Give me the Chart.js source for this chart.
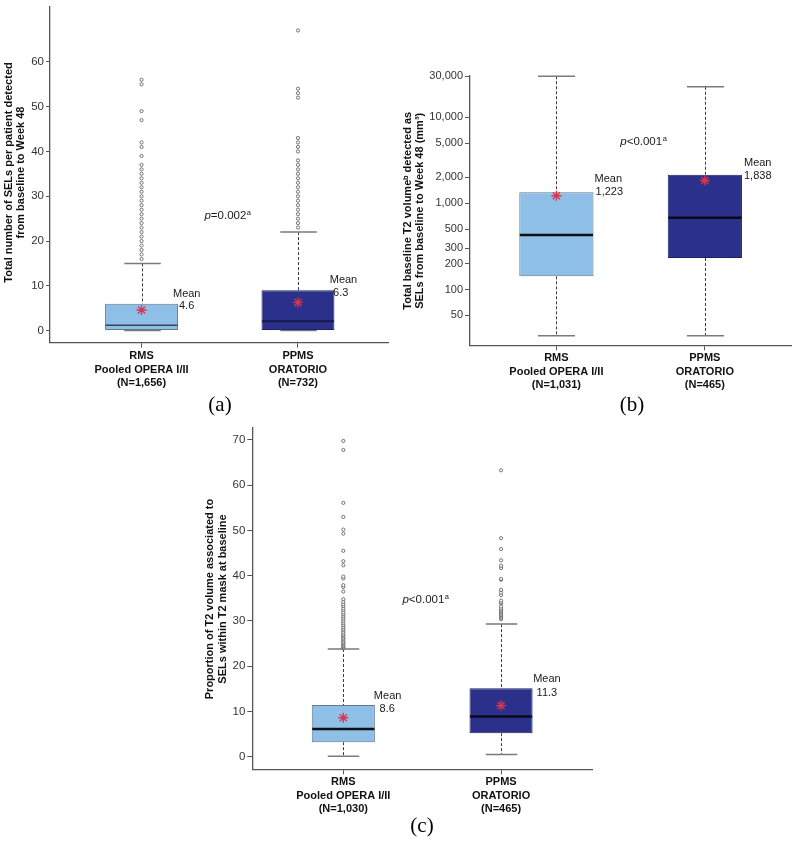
<!DOCTYPE html>
<html><head><meta charset="utf-8">
<script src="https://cdn.jsdelivr.net/npm/chart.js@4.4.1/dist/chart.umd.min.js"></script>
<style>
html,body{margin:0;padding:0;background:#fff;}
#wrap{position:relative;width:798px;height:842px;overflow:hidden;background:#fff;}
canvas{position:absolute;}
</style></head><body>
<div id="wrap">
<canvas id="ca" width="395" height="420" style="left:0;top:0;width:395px;height:420px"></canvas>
<canvas id="cb" width="403" height="420" style="left:395px;top:0;width:403px;height:420px"></canvas>
<canvas id="cc" width="440" height="422" style="left:180px;top:420px;width:440px;height:422px"></canvas>
</div>
<script>
// ---------- Panel (a): total number of SELs ----------
const aCategories = [["RMS", "Pooled OPERA I/II", "(N=1,656)"], ["PPMS", "ORATORIO", "(N=732)"]];
const aQ1 = [0, 0];
const aQ3 = [6, 9];
const aMedian = [1.2, 2.1];
const aWhiskerLow = [0, 0];
const aWhiskerHigh = [15, 22];
const aMean = [4.6, 6.3];
const aMeanLabels = ["4.6", "6.3"];
const aOutliersRMS = [16,17,18,19,20,21,22,23,24,25,26,27,28,29,30,31,32,33,34,35,36,37,39,41,42,47,49,55,56];
const aOutliersPPMS = [23,24,25,26,27,28,29,30,31,32,33,34,35,36,37,38,40,41,42,43,52,53,54,67];
const aYTicks = [0, 10, 20, 30, 40, 50, 60];
const aTitle = ["Total number of SELs per patient detected", "from baseline to Week 48"];
const aPValue = "=0.002";

// ---------- Panel (b): total baseline T2 volume ----------
const bCategories = [["RMS", "Pooled OPERA I/II", "(N=1,031)"], ["PPMS", "ORATORIO", "(N=465)"]];
const bQ1 = [142, 232];
const bQ3 = [1341, 2150];
const bMedian = [430, 681];
const bWhiskerLow = [29, 29];
const bWhiskerHigh = [29800, 22500];
const bMean = [1223, 1838];
const bMeanLabels = ["1,223", "1,838"];
const bOutliersRMS = [];
const bOutliersPPMS = [];
const bYTicks = [50, 100, 200, 300, 500, 1000, 2000, 5000, 10000, 30000];
const bTitle = ["Total baseline T2 volume\u1D47 detected as", "SELs from baseline to Week 48 (mm\u00B3)"];
const bPValue = "<0.001";

// ---------- Panel (c): proportion of T2 volume ----------
const cCategories = [["RMS", "Pooled OPERA I/II", "(N=1,030)"], ["PPMS", "ORATORIO", "(N=465)"]];
const cQ1 = [3.2, 5.2];
const cQ3 = [11.4, 15.1];
const cMedian = [6.1, 8.9];
const cWhiskerLow = [0.1, 0.5];
const cWhiskerHigh = [23.8, 29.3];
const cMean = [8.6, 11.3];
const cMeanLabels = ["8.6", "11.3"];
const cOutliersRMS = [24.0,24.2,24.4,24.6,24.9,25.1,25.4,25.7,26.0,26.3,26.6,26.9,27.2,27.6,28.0,28.3,28.7,29.1,29.5,29.9,30.3,30.7,31.1,31.5,31.9,32.4,32.8,33.3,33.7,34.2,34.8,36.5,37.5,37.9,39.4,39.8,42.3,43.2,45.5,49.3,50.2,53.0,56.1,67.8,69.8];
const cOutliersPPMS = [30.4,30.7,31.0,31.3,31.6,31.9,32.2,32.5,32.8,33.2,33.9,34.1,34.5,35.7,36.3,36.9,39.1,39.3,41.7,42.2,43.4,45.9,48.3,63.3];
const cYTicks = [0, 10, 20, 30, 40, 50, 60, 70];
const cTitle = ["Proportion of T2 volume associated to", "SELs within T2 mask at baseline"];
const cPValue = "<0.001";

// ---------- styling ----------
const FONT = '"Liberation Sans", Arial, Helvetica, sans-serif';
const SERIF = '"Liberation Serif", "Times New Roman", serif';
const BOX_FILL = ['#8EBFE7', '#2B318B'];
const BOX_EDGE = ['#62778F', '#1C2268'];
const AXIS = '#555555';

function makePanel(cfg) {
  const d = cfg.data;
  const extras = {
    id: 'boxExtras',
    beforeDatasetsDraw(chart) {
      const ctx = chart.ctx, x = chart.scales.x, y = chart.scales.y;
      const meta = chart.getDatasetMeta(0);
      ctx.save();
      d.q1.forEach((_, i) => {
        const cx = Math.round(x.getPixelForValue(i)) + 0.5;
        const half = meta.data[i].width / 4;
        ctx.setLineDash([3, 2]);
        ctx.strokeStyle = '#3a3a3a';
        ctx.lineWidth = 1;
        ctx.beginPath();
        ctx.moveTo(cx, y.getPixelForValue(d.hi[i]));
        ctx.lineTo(cx, y.getPixelForValue(d.q3[i]));
        ctx.moveTo(cx, y.getPixelForValue(d.q1[i]));
        ctx.lineTo(cx, y.getPixelForValue(d.lo[i]));
        ctx.stroke();
        ctx.setLineDash([]);
        ctx.strokeStyle = '#7a7a7a';
        ctx.lineWidth = 1.5;
        ctx.beginPath();
        [d.hi[i], d.lo[i]].forEach(v => {
          const py = y.getPixelForValue(v);
          ctx.moveTo(cx - half, py); ctx.lineTo(cx + half, py);
        });
        ctx.stroke();
      });
      ctx.restore();
    },
    afterDatasetDraw(chart, args) {
      if (args.index !== 0) return;
      const ctx = chart.ctx, y = chart.scales.y;
      const meta = chart.getDatasetMeta(0);
      ctx.save();
      d.median.forEach((m, i) => {
        const bar = meta.data[i];
        const py = y.getPixelForValue(m);
        ctx.strokeStyle = cfg.medianStyle[i].c;
        ctx.lineWidth = cfg.medianStyle[i].w;
        ctx.beginPath();
        ctx.moveTo(bar.x - bar.width / 2 + 0.5, py);
        ctx.lineTo(bar.x + bar.width / 2 - 0.5, py);
        ctx.stroke();
      });
      ctx.restore();
    },
    afterDraw(chart) {
      const ctx = chart.ctx, y = chart.scales.y;
      const meta = chart.getDatasetMeta(0);
      ctx.save();
      ctx.fillStyle = '#111';
      ctx.font = 'bold 11px ' + FONT;
      ctx.textAlign = 'center';
      ctx.textBaseline = 'middle';
      cfg.title.forEach((t, k) => {
        ctx.save();
        ctx.translate(cfg.titleX[k], cfg.titleY);
        ctx.rotate(-Math.PI / 2);
        ctx.fillText(t, 0, 0);
        ctx.restore();
      });
      ctx.font = '11px ' + FONT;
      ctx.textAlign = 'left';
      ctx.fillStyle = '#1a1a1a';
      d.meanLabels.forEach((lab, i) => {
        const bar = meta.data[i];
        const right = bar.x + bar.width / 2;
        const top = y.getPixelForValue(d.q3[i]);
        const o = cfg.meanOffsets[i];
        ctx.fillText('Mean', right + o[0], top + o[1]);
        ctx.fillText(lab, right + o[2], top + o[3]);
      });
      const italic = 'italic 11.5px ' + FONT, normal = '11.5px ' + FONT, sup = '7.5px ' + FONT;
      ctx.font = italic; const w1 = ctx.measureText('p').width;
      ctx.font = normal; const w2 = ctx.measureText(cfg.pValue).width;
      ctx.font = sup; const w3 = ctx.measureText('a').width;
      let px = cfg.pPos[0] - (w1 + w2 + w3) / 2;
      ctx.fillStyle = '#1a1a1a';
      ctx.font = italic; ctx.fillText('p', px, cfg.pPos[1]); px += w1;
      ctx.font = normal; ctx.fillText(cfg.pValue, px, cfg.pPos[1]); px += w2;
      ctx.font = sup; ctx.fillText('a', px + 0.5, cfg.pPos[1] - 3);
      ctx.font = '21px ' + SERIF;
      ctx.fillStyle = '#000';
      ctx.textAlign = 'center';
      ctx.fillText(cfg.panelLabel, cfg.labelPos[0], cfg.labelPos[1]);
      ctx.restore();
    }
  };

  const datasets = [
    {
      type: 'bar',
      data: d.q1.map((v, i) => ({ x: i, y: [d.q1[i], d.q3[i]] })),
      backgroundColor: BOX_FILL,
      borderColor: BOX_EDGE,
      borderWidth: 1,
      borderSkipped: false,
      barPercentage: cfg.barPct,
      categoryPercentage: 1,
      order: 3
    },
    {
      type: 'scatter',
      data: d.outRMS.map(v => ({ x: 0, y: v })).concat(d.outPPMS.map(v => ({ x: 1, y: v }))),
      pointStyle: 'circle',
      pointRadius: 1.6,
      borderWidth: 0.8,
      borderColor: '#555555',
      backgroundColor: '#ffffff',
      order: 2
    },
    {
      type: 'scatter',
      data: d.mean.map((v, i) => ({ x: i, y: v })),
      pointStyle: 'star',
      pointRadius: 5,
      borderWidth: 1.3,
      borderColor: '#E0344E',
      backgroundColor: '#E0344E',
      order: 1
    }
  ];

  return new Chart(document.getElementById(cfg.canvas), {
    type: 'bar',
    data: { datasets },
    plugins: [extras],
    options: {
      responsive: false,
      animation: false,
      devicePixelRatio: 1,
      layout: { padding: cfg.padding },
      plugins: { legend: { display: false }, tooltip: { enabled: false } },
      scales: {
        x: {
          type: 'linear',
          min: cfg.xRange[0], max: cfg.xRange[1],
          offset: false,
          grid: { display: true, drawOnChartArea: false, drawTicks: true, tickLength: 5, color: AXIS, offset: false },
          border: { display: true, color: AXIS, width: 1.3 },
          afterBuildTicks: s => { s.ticks = [{ value: 0 }, { value: 1 }]; },
          afterFit: s => { s.height = cfg.xHeight; s.paddingLeft = 0; s.paddingRight = 0; },
          ticks: {
            autoSkip: false, maxRotation: 0, padding: cfg.xPad,
            color: '#111',
            font: { family: FONT, size: 11, weight: 'bold', lineHeight: 1.2 },
            callback: v => d.categories[v]
          }
        },
        y: {
          type: cfg.yType,
          min: cfg.yRange[0], max: cfg.yRange[1],
          grid: { display: true, drawOnChartArea: false, drawTicks: true, tickLength: cfg.yTickLen, color: AXIS },
          border: { display: true, color: AXIS, width: 1.3 },
          afterBuildTicks: s => { s.ticks = d.yTicks.map(v => ({ value: v })); },
          afterFit: s => { s.width = cfg.yWidth; s.paddingTop = 0; s.paddingBottom = 0; },
          ticks: {
            autoSkip: false, padding: 2,
            color: '#333',
            font: { family: FONT, size: cfg.yFont },
            callback: v => Number(v).toLocaleString('en-US')
          }
        }
      }
    }
  });
}

makePanel({
  canvas: 'ca',
  data: { categories: aCategories, q1: aQ1, q3: aQ3, median: aMedian, lo: aWhiskerLow, hi: aWhiskerHigh,
          mean: aMean, meanLabels: aMeanLabels, outRMS: aOutliersRMS, outPPMS: aOutliersPPMS, yTicks: aYTicks },
  title: aTitle, pValue: aPValue, panelLabel: '(a)',
  xRange: [-0.585, 1.58], yRange: [-2.7, 72.4], yType: 'linear',
  padding: { top: 3, right: 6, left: 0, bottom: 0 }, yWidth: 50, xHeight: 77.3, xPad: 2,
  yTickLen: 4, yFont: 11.5, barPct: 0.466,
  titleX: [8.5, 20.5], titleY: 172.5, pPos: [227.5, 216], labelPos: [220, 405],
  meanOffsets: [[-5, -10, 1, 2.7], [-4.7, -10.4, -1.4, 3]],
  medianStyle: [{ c: '#34445f', w: 1.5 }, { c: '#141a4c', w: 2 }]
});

makePanel({
  canvas: 'cb',
  data: { categories: bCategories, q1: bQ1, q3: bQ3, median: bMedian, lo: bWhiskerLow, hi: bWhiskerHigh,
          mean: bMean, meanLabels: bMeanLabels, outRMS: bOutliersRMS, outPPMS: bOutliersPPMS, yTicks: bYTicks },
  title: bTitle, pValue: bPValue, panelLabel: '(b)',
  xRange: [-0.582, 1.585], yRange: [22.5, 30000], yType: 'logarithmic',
  padding: { top: 76, right: 3, left: 0, bottom: 0 }, yWidth: 75, xHeight: 74.7, xPad: 1.4,
  yTickLen: 5, yFont: 11, barPct: 0.5,
  titleX: [13.3, 24.7], titleY: 210.8, pPos: [248.3, 141.7], labelPos: [237, 405],
  meanOffsets: [[1, -13.7, 2, -0.3], [2, -12, 2, 1.4]],
  medianStyle: [{ c: '#0d0d14', w: 2.5 }, { c: '#0a0a1a', w: 2.5 }]
});

makePanel({
  canvas: 'cc',
  data: { categories: cCategories, q1: cQ1, q3: cQ3, median: cMedian, lo: cWhiskerLow, hi: cWhiskerHigh,
          mean: cMean, meanLabels: cMeanLabels, outRMS: cOutliersRMS, outPPMS: cOutliersPPMS, yTicks: cYTicks },
  title: cTitle, pValue: cPValue, panelLabel: '(c)',
  xRange: [-0.577, 1.581], yRange: [-2.79, 72.65], yType: 'linear',
  padding: { top: 8, right: 27.3, left: 0, bottom: 0 }, yWidth: 72.3, xHeight: 72.7, xPad: 1.4,
  yTickLen: 5, yFont: 11.5, barPct: 0.4,
  titleX: [30.3, 42.8], titleY: 179, pPos: [245.5, 180], labelPos: [242, 406.7],
  meanOffsets: [[-1, -8.7, 4.7, 4.3], [0.6, -9, 4, 4.4]],
  medianStyle: [{ c: '#0d0d14', w: 2.5 }, { c: '#0a0a1a', w: 2.5 }]
});
</script>
</body></html>
